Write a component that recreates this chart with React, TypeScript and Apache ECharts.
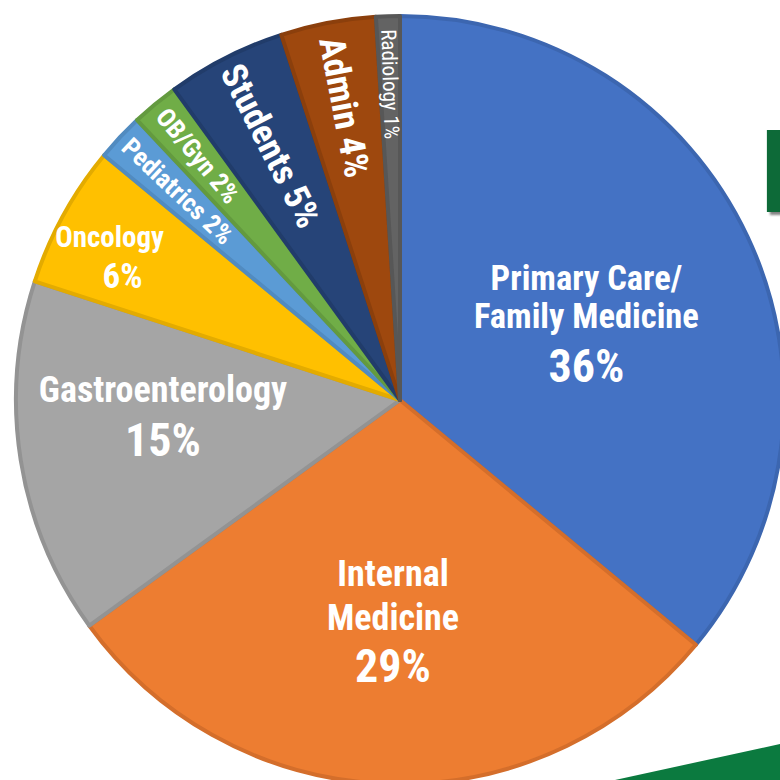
import React, { useEffect, useRef } from 'react';
import * as echarts from 'echarts';

// ---- data ----
const categories = [
  'Primary Care/\nFamily Medicine',
  'Internal\nMedicine',
  'Gastroenterology',
  'Oncology',
  'Pediatrics',
  'OB/Gyn',
  'Students',
  'Admin',
  'Radiology',
];
const values = [36, 29, 15, 6, 2, 2, 5, 4, 1];
const fillColors = ['#4472C4', '#ED7D31', '#A5A5A5', '#FFC000', '#5B9BD5', '#70AD47', '#264478', '#9E480E', '#636363'];
const borderColors = ['#3C66B0', '#D46E2B', '#939393', '#E3AB00', '#518BC0', '#639A3F', '#213C6A', '#8B3F0C', '#575757'];

// ---- label layout (positions / sizes only) ----
const NARROW = "'Roboto Condensed', 'DejaVu Sans Condensed', 'Liberation Sans Narrow', Roboto, sans-serif";
type Lay = {
  r: number;
  radial?: boolean;
  size?: number;
  weight?: string;
  nameSize?: number;
  nameLH?: number;
  pctSize?: number;
  pctLH?: number;
  padding?: number[];
  pctPad?: number[];
};
const labelLayouts: Lay[] = [
  { r: 203, nameSize: 34.5, nameLH: 38, pctSize: 46, pctLH: 62, padding: [31, 0, 0, 0] },
  { r: 219, nameSize: 36, nameLH: 44, pctSize: 46, pctLH: 52 },
  { r: 237, nameSize: 36, nameLH: 44, pctSize: 46, pctLH: 56, padding: [0, 0, 40, 0] },
  { r: 325, nameSize: 29, nameLH: 40, pctSize: 35, pctLH: 40, padding: [30, 6, 0, 0], pctPad: [0, 0, 0, 26] },
  { r: 302, radial: true, size: 26, weight: 'bold' },
  { r: 314, radial: true, size: 26, weight: 'bold' },
  { r: 282, radial: true, size: 36, weight: 'bold' },
  { r: 295, radial: true, size: 36, weight: 'bold' },
  { r: 313, radial: true, size: 21, weight: 'normal' },
];

const CX = 400;
const CY = 400;
const R = 384;

export default function App() {
  const ref = useRef<HTMLDivElement>(null);
  useEffect(() => {
    document.body.style.margin = '0';
    const chart = echarts.init(ref.current!, undefined, { renderer: 'svg' });

    const mainSeries: any = {
      type: 'pie',
      center: [CX, CY],
      radius: [0, R],
      startAngle: 90,
      clockwise: true,
      silent: true,
      avoidLabelOverlap: false,
      label: { show: false },
      labelLine: { show: false },
      emphasis: { disabled: true },
      data: values.map((v, i) => ({
        value: v,
        name: categories[i],
        itemStyle: { color: fillColors[i], borderColor: borderColors[i], borderWidth: 4 },
      })),
      z: 1,
    };

    const labelSeries = labelLayouts.map((lay, i) => {
      let label: any;
      if (lay.radial) {
        label = {
          position: 'inside',
          rotate: 'radial',
          color: '#fff',
          fontFamily: NARROW,
          fontSize: lay.size,
          fontWeight: lay.weight,
          formatter: (p: any) => `${p.name} ${p.value}%`,
        };
      } else {
        label = {
          position: 'inside',
          rotate: 0,
          color: '#fff',
          fontFamily: NARROW,
          align: 'center',
          padding: lay.padding || 0,
          formatter: (p: any) =>
            String(p.name)
              .split('\n')
              .map((s: string) => `{n|${s}}`)
              .join('\n') + `\n{p|${p.value}%}`,
          rich: {
            n: { fontSize: lay.nameSize, lineHeight: lay.nameLH, fontWeight: 'bold', color: '#fff', fontFamily: NARROW, align: 'center' },
            p: {
              fontSize: lay.pctSize,
              lineHeight: lay.pctLH,
              fontWeight: 'bold',
              color: '#fff',
              fontFamily: NARROW,
              align: 'center',
              padding: lay.pctPad || 0,
            },
          },
        };
      }
      return {
        type: 'pie',
        center: [CX, CY],
        radius: [lay.r - 2, lay.r + 2],
        startAngle: 90,
        clockwise: true,
        silent: true,
        avoidLabelOverlap: false,
        emphasis: { disabled: true },
        labelLine: { show: false },
        itemStyle: { color: 'rgba(0,0,0,0)', borderWidth: 0 },
        label: { show: false, ...label },
        data: values.map((v, j) => ({
          value: v,
          name: categories[j],
          label: { show: j === i },
        })),
        z: 5,
      };
    });

    chart.setOption({
      animation: false,
      backgroundColor: '#ffffff',
      graphic: [
        {
          type: 'polygon',
          shape: { points: [[615, 780], [780, 744], [780, 780]] },
          style: { fill: '#0B7A3F' },
          z: 0,
        },
        {
          type: 'text',
          x: 759,
          y: 112,
          style: {
            text: 'P',
            fontSize: 118,
            fontWeight: 'bold',
            fontFamily: "'Liberation Sans', Arial, sans-serif",
            fill: '#0A6B37',
            textShadowColor: 'rgba(80,80,80,0.7)',
            textShadowOffsetX: 3,
            textShadowOffsetY: 3,
            textShadowBlur: 2,
          },
          z: 0,
        },
      ],
      series: [mainSeries, ...labelSeries],
    });
    return () => chart.dispose();
  }, []);
  return <div ref={ref} style={{ position: 'fixed', left: 0, top: 0, width: 780, height: 780 }} />;
}
